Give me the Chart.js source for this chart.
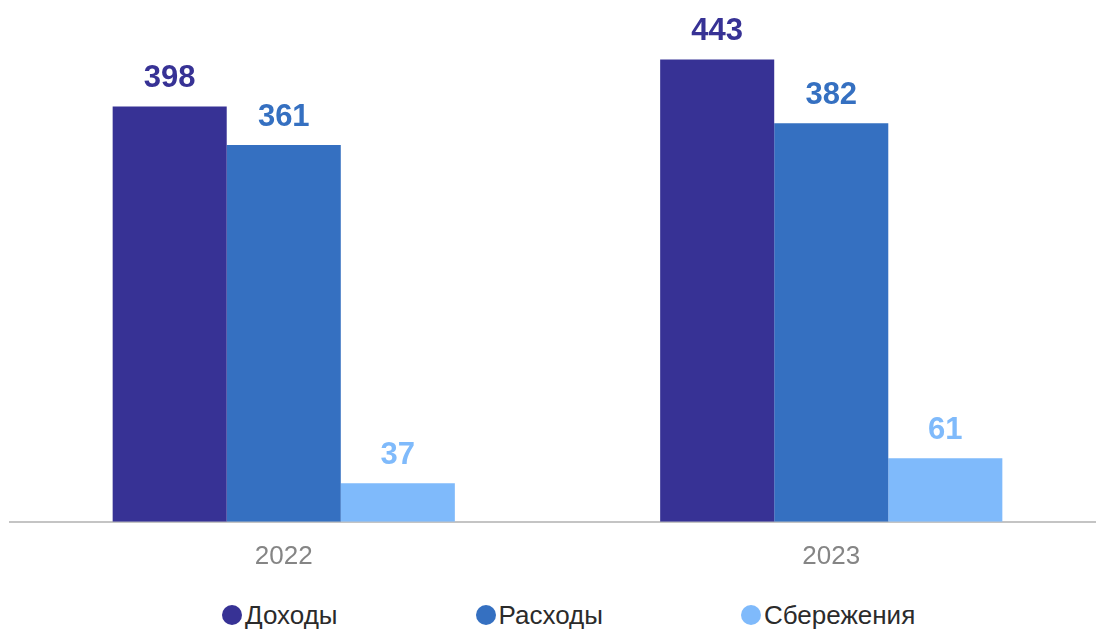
<!DOCTYPE html>
<html lang="ru">
<head>
    <meta charset="utf-8">
    <title>Доходы, расходы и сбережения</title>
    <script src="https://cdn.jsdelivr.net/npm/chart.js"></script>
    <style>
        html, body {
            margin: 0;
            padding: 0;
            background: #ffffff;
            overflow: hidden;
        }

        .chart-box {
            position: relative;
            width: 1105px;
            height: 583px;
        }

        .legend {
            position: absolute;
            left: 222px;
            top: 602px;
            display: flex;
            font-family: "Liberation Sans", Arial, sans-serif;
            font-size: 26px;
            color: #2b2b2b;
            line-height: 26px;
        }

        .legend-item {
            display: flex;
            align-items: center;
            margin-right: 138px;
        }

        .legend-dot {
            width: 20px;
            height: 20px;
            border-radius: 50%;
            margin-right: 3px;
        }
    </style>
</head>
<body>
    <div class="chart-box">
        <canvas id="budgetChart" width="1105" height="583"></canvas>
    </div>
    <div class="legend" id="legend"></div>

    <script>
        // данные графика
        const years = ['2022', '2023'];
        const seriesNames = ['Доходы', 'Расходы', 'Сбережения'];
        const income = [398, 443];
        const expenses = [361, 382];
        const savings = [37, 61];
        const seriesColors = ['#373295', '#3570c1', '#7fbafb'];

        // подписи значений над столбцами
        const valueLabels = {
            id: 'valueLabels',
            afterDatasetsDraw(chart) {
                const ctx = chart.ctx;
                ctx.save();
                ctx.font = 'bold 31px "Liberation Sans", Arial, sans-serif';
                ctx.textAlign = 'center';
                ctx.textBaseline = 'alphabetic';
                chart.data.datasets.forEach((ds, i) => {
                    const meta = chart.getDatasetMeta(i);
                    ctx.fillStyle = ds.backgroundColor;
                    meta.data.forEach((bar, j) => {
                        ctx.fillText(ds.data[j], bar.x, bar.y - 19);
                    });
                });
                ctx.restore();
            }
        };

        new Chart(document.getElementById('budgetChart'), {
            type: 'bar',
            data: {
                labels: years,
                datasets: [income, expenses, savings].map((values, i) => ({
                    label: seriesNames[i],
                    data: values,
                    backgroundColor: seriesColors[i],
                    borderWidth: 0,
                    barPercentage: 1,
                    categoryPercentage: 0.625
                }))
            },
            options: {
                responsive: false,
                animation: false,
                layout: {
                    padding: { left: 10, right: 0, top: 0, bottom: 0 }
                },
                plugins: {
                    legend: { display: false },
                    tooltip: { enabled: false }
                },
                scales: {
                    x: {
                        grid: { display: false },
                        border: { display: true, color: '#c4c4c4', width: 2 },
                        ticks: {
                            color: '#858585',
                            padding: 11,
                            font: { family: '"Liberation Sans", Arial, sans-serif', size: 26 }
                        }
                    },
                    y: {
                        display: false,
                        min: 0,
                        max: 500
                    }
                }
            },
            plugins: [valueLabels]
        });

        // легенда
        document.getElementById('legend').innerHTML = seriesNames.map((name, i) => `
            <div class="legend-item">
                <span class="legend-dot" style="background:${seriesColors[i]}"></span>${name}
            </div>
        `).join('');
    </script>
</body>
</html>
